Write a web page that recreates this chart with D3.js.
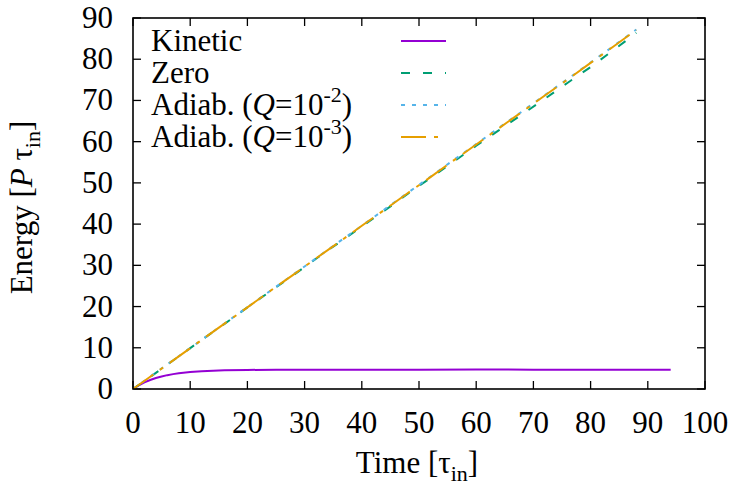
<!DOCTYPE html>
<head>
  <meta charset="utf-8">
  <title>Energy vs time</title>
  <script src="https://d3js.org/d3.v7.min.js"></script>
  <style>
    body { margin:0; background:#fff; }
  </style>
</head>
<body>
  <svg width="734" height="485"></svg>
  <script>
    // kinetic energy, saturates early
    var kinTime = [0, 1, 2, 3, 4, 5, 6, 7, 8, 10, 12, 14, 16, 20, 25, 30, 40, 50, 60, 70, 80, 90, 94];
    var kinE    = [0, 0.88, 1.6, 2.18, 2.67, 3.05, 3.36, 3.61, 3.81, 4.1, 4.31, 4.45, 4.53, 4.63, 4.67, 4.69, 4.7, 4.7, 4.71, 4.7, 4.7, 4.7, 4.7];

    // the three nearly-linear curves
    var linTime = [0, 4, 8, 12, 16, 20, 24, 28, 32, 36, 40, 44, 48, 52, 56, 60, 64, 68, 72, 76, 80, 84, 88];
    var zeroE   = [0, 3.9, 7.9, 11.9, 15.8, 19.8, 23.7, 27.6, 31.6, 35.5, 39.4, 43.3, 47.3, 51.2, 55.1, 59.0, 62.8, 66.6, 70.4, 74.3, 78.1, 82.2, 86.4];
    var adiab2E = [0, 4.0, 7.95, 11.9, 15.9, 19.85, 23.8, 27.75, 31.7, 35.7, 39.6, 43.6, 47.55, 51.5, 55.5, 59.4, 63.4, 67.3, 71.3, 75.2, 79.2, 83.2, 87.2];
    var adiab3E = [0, 3.95, 7.9, 11.9, 15.85, 19.8, 23.8, 27.7, 31.7, 35.6, 39.6, 43.5, 47.5, 51.4, 55.4, 59.3, 63.3, 67.2, 71.2, 75.1, 79.1, 83.1, 87.1];

    var xTicks = [0, 10, 20, 30, 40, 50, 60, 70, 80, 90, 100];
    var yTicks = [0, 10, 20, 30, 40, 50, 60, 70, 80, 90];

    var margin = {top: 18, right: 29, bottom: 96, left: 133};
    var width = 734, height = 485;
    var svg = d3.select('svg');
    var font = "'Liberation Serif'";

    var xScale = d3.scaleLinear().domain([0, 100]).range([margin.left, width - margin.right]);
    var yScale = d3.scaleLinear().domain([0, 90]).range([height - margin.bottom, margin.top]);

    var tickLen = 8;
    var fontSize = 31;
    var smallSize = 22;

    function addText(parent) {
      return parent.append('text').style('font-family', font).attr('font-size', fontSize);
    }

    // ticks (inward, mirrored like gnuplot)
    var frame = svg.append('g');
    xTicks.forEach(t => {
      var x = xScale(t);
      frame.append('line').attr('x1', x).attr('x2', x)
        .attr('y1', yScale(0)).attr('y2', yScale(0) - tickLen)
        .attr('stroke', '#000').attr('stroke-width', 1.3);
      frame.append('line').attr('x1', x).attr('x2', x)
        .attr('y1', yScale(90)).attr('y2', yScale(90) + tickLen)
        .attr('stroke', '#000').attr('stroke-width', 1.3);
      addText(svg).attr('x', x).attr('y', yScale(0) + 44)
        .attr('text-anchor', 'middle').text(t);
    });
    yTicks.forEach(t => {
      var y = yScale(t);
      frame.append('line').attr('x1', xScale(0)).attr('x2', xScale(0) + tickLen)
        .attr('y1', y).attr('y2', y).attr('stroke', '#000').attr('stroke-width', 1.3);
      frame.append('line').attr('x1', xScale(100)).attr('x2', xScale(100) - tickLen)
        .attr('y1', y).attr('y2', y).attr('stroke', '#000').attr('stroke-width', 1.3);
      addText(svg).attr('x', xScale(0) - 20).attr('y', y + 10)
        .attr('text-anchor', 'end').text(t);
    });

    var line = d3.line().x(d => xScale(d[0])).y(d => yScale(d[1]));

    var series = [
      {name: 'Kinetic', t: kinTime, e: kinE, color: '#9400d3', dash: null},
      {name: 'Zero', t: linTime, e: zeroE, color: '#009e73', dash: '9,13'},
      {name: 'Q2', t: linTime, e: adiab2E, color: '#56b4e9', dash: '4,7'},
      {name: 'Q3', t: linTime, e: adiab3E, color: '#e69f00', dash: '25,8,4,8'}
    ];

    series.forEach(s => {
      var pts = s.t.map((t, i) => [t, s.e[i]]);
      svg.append('path').attr('d', line(pts))
        .attr('fill', 'none').attr('stroke', s.color).attr('stroke-width', 2)
        .attr('stroke-dasharray', s.dash);
    });

    // border on top
    svg.append('rect')
      .attr('x', xScale(0)).attr('y', yScale(90))
      .attr('width', xScale(100) - xScale(0)).attr('height', yScale(0) - yScale(90))
      .attr('fill', 'none').attr('stroke', '#000').attr('stroke-width', 1.6);

    // legend
    var legendRows = [41, 73, 105, 137];
    var leg = svg.append('g');
    series.forEach((s, i) => {
      var y = legendRows[i];
      leg.append('line').attr('x1', 401).attr('x2', 446).attr('y1', y).attr('y2', y)
        .attr('stroke', s.color).attr('stroke-width', 2)
        .attr('stroke-dasharray', s.dash);
    });
    var tx = 151;
    addText(leg).attr('x', tx).attr('y', legendRows[0] + 10).text('Kinetic');
    addText(leg).attr('x', tx).attr('y', legendRows[1] + 10).text('Zero');
    [['-2', 2], ['-3', 3]].forEach(p => {
      var t = addText(leg).attr('x', tx).attr('y', legendRows[p[1]] + 10);
      t.append('tspan').text('Adiab. (');
      t.append('tspan').attr('font-style', 'italic').text('Q');
      t.append('tspan').text('=10');
      t.append('tspan').attr('dy', -13).attr('font-size', smallSize).text(p[0]);
      t.append('tspan').attr('dy', 13).text(')');
    });

    // axis titles
    var xt = addText(svg).attr('x', xScale(50) - 2).attr('y', 473)
      .attr('text-anchor', 'middle');
    xt.append('tspan').text('Time [τ');
    xt.append('tspan').attr('dy', 8).attr('font-size', smallSize).text('in');
    xt.append('tspan').attr('dy', -8).text(']');

    var yt = addText(svg)
      .attr('transform', 'translate(32,' + (yScale(45) + 4) + ') rotate(-90)')
      .attr('text-anchor', 'middle');
    yt.append('tspan').text('Energy [');
    yt.append('tspan').attr('font-style', 'italic').text('P');
    yt.append('tspan').text(' τ');
    yt.append('tspan').attr('dy', 8).attr('font-size', smallSize).text('in');
    yt.append('tspan').attr('dy', -8).text(']');
  </script>
</body>
